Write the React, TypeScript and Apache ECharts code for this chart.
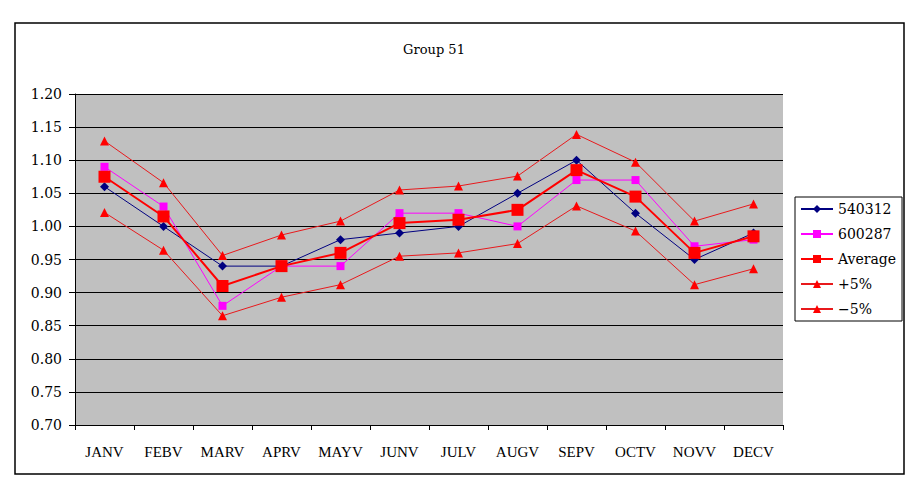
import React, { useEffect, useRef } from "react";
import * as echarts from "echarts";

const categories = ["JANV", "FEBV", "MARV", "APRV", "MAYV", "JUNV", "JULV", "AUGV", "SEPV", "OCTV", "NOVV", "DECV"];
const s540312 = [1.06, 1.0, 0.94, 0.94, 0.98, 0.99, 1.0, 1.05, 1.1, 1.02, 0.95, 0.99];
const s600287 = [1.09, 1.03, 0.88, 0.94, 0.94, 1.02, 1.02, 1.0, 1.07, 1.07, 0.97, 0.98];
const average = [1.075, 1.015, 0.91, 0.94, 0.96, 1.005, 1.01, 1.025, 1.085, 1.045, 0.96, 0.985];
const plus5 = [1.129, 1.066, 0.956, 0.987, 1.008, 1.055, 1.061, 1.076, 1.139, 1.097, 1.008, 1.034];
const minus5 = [1.021, 0.964, 0.865, 0.893, 0.912, 0.955, 0.96, 0.974, 1.031, 0.993, 0.912, 0.936];
const title = "Group 51";

export default function App() {
  const ref = useRef<HTMLDivElement>(null);
  useEffect(() => {
    if (!ref.current) return;
    const chart = echarts.init(ref.current, undefined, { renderer: "svg" });
    const serif = "DejaVu Serif";
    chart.setOption({
      animation: false,
      backgroundColor: "#ffffff",
      title: {
        text: title,
        left: 429,
        textAlign: "center",
        top: 38,
        textStyle: { fontFamily: serif, fontSize: 13, fontWeight: "normal", color: "#000" },
      },
      graphic: [
        {
          type: "rect",
          shape: { x: 15, y: 23, width: 889, height: 451 },
          style: { fill: "none", stroke: "#000", lineWidth: 1.5 },
          z: 10,
        },
      ],
      legend: {
        orient: "vertical",
        left: 795,
        top: 197,
        borderColor: "#000",
        borderWidth: 1,
        padding: [5, 6, 5, 5],
        itemGap: 11,
        itemWidth: 32,
        itemHeight: 10,
        textStyle: { fontFamily: serif, fontSize: 14, color: "#000" },
        data: ["540312", "600287", "Average", "+5%", "−5%"],
      },
      grid: { left: 75, top: 94, right: 133, bottom: 59, backgroundColor: "#C0C0C0", show: true, borderWidth: 0 },
      xAxis: {
        type: "category",
        data: categories,
        boundaryGap: true,
        axisLine: { lineStyle: { color: "#000", width: 1 } },
        axisTick: { show: true, length: 5, lineStyle: { color: "#000" } },
        axisLabel: { fontFamily: "Liberation Serif", fontSize: 15, color: "#000", margin: 19, interval: 0 },
        splitLine: { show: false },
      },
      yAxis: {
        type: "value",
        min: 0.7,
        max: 1.2,
        interval: 0.05,
        axisLine: { show: true, lineStyle: { color: "#000", width: 1 } },
        axisTick: { show: true, length: 6, lineStyle: { color: "#000" } },
        axisLabel: {
          fontFamily: serif,
          fontSize: 14,
          color: "#000",
          margin: 13,
          formatter: (v: number) => v.toFixed(2),
        },
        splitLine: { show: true, lineStyle: { color: "#000", width: 1 } },
      },
      series: [
        {
          name: "540312",
          type: "line",
          data: s540312,
          symbol: "diamond",
          symbolSize: 9,
          color: "#000080",
          lineStyle: { color: "#000080", width: 1 },
          itemStyle: { color: "#000080" },
          z: 4,
        },
        {
          name: "600287",
          type: "line",
          data: s600287,
          symbol: "rect",
          symbolSize: 8,
          color: "#FF00FF",
          lineStyle: { color: "#FF00FF", width: 1 },
          itemStyle: { color: "#FF00FF" },
          z: 3,
        },
        {
          name: "Average",
          type: "line",
          data: average,
          symbol: "rect",
          symbolSize: 12,
          color: "#FF0000",
          lineStyle: { color: "#FF0000", width: 2 },
          itemStyle: { color: "#FF0000" },
          z: 5,
        },
        {
          name: "+5%",
          type: "line",
          data: plus5,
          symbol: "triangle",
          symbolSize: 9,
          color: "#FF0000",
          lineStyle: { color: "#E8191C", width: 1 },
          itemStyle: { color: "#FF0000" },
          z: 2,
        },
        {
          name: "−5%",
          type: "line",
          data: minus5,
          symbol: "triangle",
          symbolSize: 9,
          color: "#FF0000",
          lineStyle: { color: "#E8191C", width: 1 },
          itemStyle: { color: "#FF0000" },
          z: 2,
        },
      ],
    });
    return () => chart.dispose();
  }, []);
  return <div ref={ref} style={{ position: "absolute", left: 0, top: 0, width: 916, height: 484 }} />;
}
